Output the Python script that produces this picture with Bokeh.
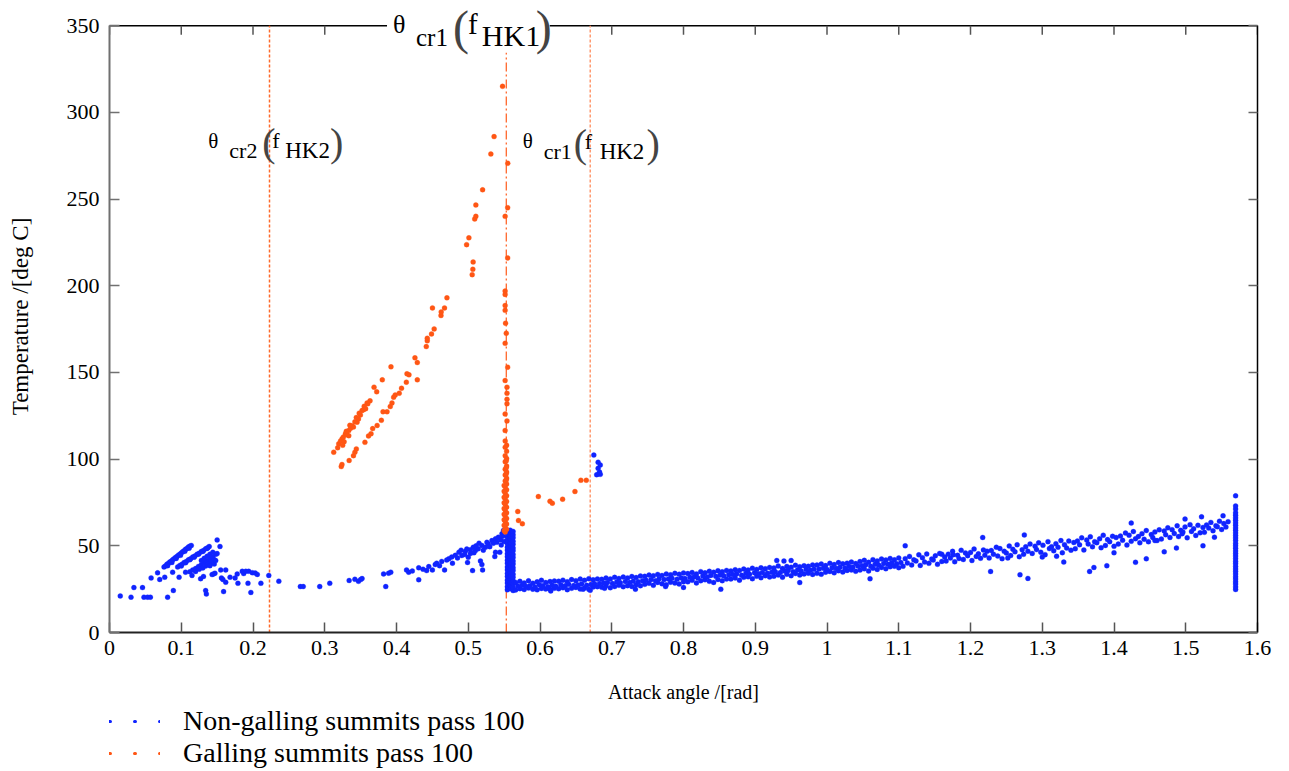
import numpy as np
from bokeh.plotting import figure
from bokeh.layouts import column
from bokeh.models import (ColumnDataSource, LinearAxis, Range1d, FixedTicker, Label,
                          Legend, LegendItem)
from bokeh.embed import file_html
from bokeh.resources import INLINE

FONT = "Liberation Serif"
BLUE = "#1024ff"
ORANGE = "#ff5614"

x_ticks = [0, 0.1, 0.2, 0.3, 0.4, 0.5, 0.6, 0.7, 0.8, 0.9, 1, 1.1, 1.2, 1.3, 1.4, 1.5, 1.6]
y_ticks = [0, 50, 100, 150, 200, 250, 300, 350]
y_max = 350
crit_angles = [0.223, 0.553, 0.670]   # theta_cr2(fHK2), theta_cr1(fHK1), theta_cr1(fHK2)

# ---------------- Non-galling summits (blue) ----------------
blue_streak_x = [0.076,0.078,0.080,0.082,0.084,0.086,0.088,0.090,0.092,0.094,0.096,0.098,0.100,0.102,0.104,0.106,0.108,0.110,0.112,0.114,
                 0.081,0.087,0.093,0.099,0.105,0.111,
                 0.095,0.098,0.101,0.104,0.107,0.110,0.113,0.116,0.119,0.122,0.125,0.128,0.131,0.134,0.137,0.139,
                 0.100,0.106,0.112,0.118,0.124,0.130,0.136,
                 0.112,0.116,0.120,0.124,0.128,0.132,0.136,0.140,0.144,0.148,0.150,
                 0.128,0.132,0.136,0.140,0.144,0.146,0.142,0.138,0.134,0.130,0.140,0.146,0.148,0.125,0.120]
blue_streak_y = [37.8,38.4,39.3,39.8,40.6,41.1,41.9,42.5,43.3,43.8,44.6,45.1,45.9,46.6,47.1,48.0,48.5,49.3,49.8,50.2,
                 38.5,40.4,42.7,44.5,46.8,48.6,
                 37.8,38.7,39.3,40.3,40.9,41.9,42.5,43.5,44.1,45.1,45.7,46.7,47.3,48.3,48.9,49.6,
                 38.4,40.2,42.0,43.4,45.2,46.7,48.5,
                 35.0,36.1,36.9,38.1,39.1,40.4,41.4,42.7,43.7,45.1,45.5,
                 41.5,42.8,44.0,45.2,46.3,42.0,40.5,39.5,38.3,37.2,38.5,39.5,41.5,36.5,35.2]

blue_low_x = [0.015,0.030,0.034,0.046,0.048,0.053,0.057,0.058,0.067,0.070,0.077,0.081,0.089,0.088,0.097,0.150,0.154,0.145,0.147,0.143,
              0.155,0.162,0.156,0.158,0.162,0.159,0.134,0.135,0.127,0.131,0.115,0.106,0.168,0.175,0.178,0.179,0.185,0.187,0.190,0.193,
              0.197,0.194,0.199,0.203,0.206,0.211,0.222]
blue_low_y = [21.1,20.4,25.9,25.9,20.4,20.4,20.4,31.5,34.4,30.6,31.9,20.4,24.2,34.8,31.9,53.4,49.6,33.8,34.2,33.4,
              36.1,36.1,31.5,30.6,29.0,23.6,24.2,22.2,31.0,32.3,32.9,34.8,31.9,31.5,33.8,28.4,35.3,34.0,35.3,28.4,
              23.1,35.3,34.5,34.3,33.5,28.4,32.9]

blue_mid_x = [0.236,0.266,0.270,0.293,0.307,0.334,0.342,0.347,0.350,0.352,0.382,0.385,0.389,0.392,0.414,0.417,0.431,0.431,0.442,0.450,
              0.454,0.456,0.463,0.467,0.473,0.477,0.482,0.487,0.491,0.496,0.500,0.503,0.507,0.510,0.514,0.519,0.524,0.528,0.533,0.538,
              0.542,0.547,0.549,0.506,0.519,0.520,0.499,0.517,0.537,0.544,
              0.485,0.490,0.495,0.498,0.503,0.508,0.511,0.515,0.521,0.526,0.530,0.535,0.538,0.540,0.545,0.548,0.550,0.546,0.478,0.470,
              0.460,0.445,0.437,0.422]
blue_mid_y = [29.6,26.5,26.5,26.5,28.4,30.0,30.7,29.5,30.5,31.1,33.8,26.5,34.2,34.8,36.1,34.8,37.3,30.4,35.7,36.1,
              39.2,40.0,41.0,36.1,42.5,43.5,44.5,46.3,44.4,46.9,43.4,47.7,49.2,47.3,48.3,50.2,49.2,51.1,53.0,46.3,
              55.0,56.9,58.8,35.7,39.2,36.1,40.4,41.3,43.8,46.3,
              43.0,47.5,45.0,48.2,45.5,46.0,50.0,51.5,47.5,52.0,49.5,51.5,54.0,52.0,53.5,55.5,52.5,50.5,40.0,41.8,
              38.5,38.0,36.5,35.5]

blue_wall_cols = [0.5545, 0.5585, 0.5625]
blue_wall_y_a = [24.6,26.4,28.5,30.2,32.3,34.0,36.1,37.8,39.9,41.6,43.7,45.4,47.5,49.2,51.3,53.0,55.1,56.8,58.6]
blue_wall_y_b = [25.3,27.3,29.0,31.1,32.8,34.9,36.6,38.7,40.4,42.5,44.2,46.3,48.0,50.1,51.8,53.9,55.6,57.7,59.0]
blue_wall_y_c = [24.2,26.0,28.1,29.8,31.9,33.6,35.7,37.4,39.5,41.2,43.3,45.0,47.1,48.8,50.9,52.6,54.7,56.4,58.3]

band_a_x = [0.566,0.572,0.578,0.584,0.590,0.596,0.602,0.608,0.614,0.620,
            0.626,0.632,0.638,0.644,0.650,0.656,0.662,0.668,0.674,0.680,
            0.686,0.692,0.698,0.704,0.710,0.716,0.722,0.728,0.734,0.740,
            0.746,0.752,0.758,0.764,0.770,0.776,0.782,0.788,0.794,0.800,
            0.806,0.812,0.818,0.824,0.830,0.836,0.842,0.848,0.854,0.860,
            0.866,0.872,0.878,0.884,0.890,0.896,0.902,0.908,0.914,0.920,
            0.926,0.932,0.938,0.944,0.950,0.956,0.962,0.968,0.974,0.980,
            0.986,0.992,0.998,1.004,1.010,1.016,1.022,1.028,1.034,1.040,
            1.046,1.052,1.058,1.064,1.070,1.076,1.082,1.088,1.094,1.100]
band_a_x_mid = [0.569,0.575,0.581,0.586,0.593,0.599,0.604,0.611,0.617,0.622,
                0.629,0.635,0.640,0.647,0.653,0.658,0.665,0.671,0.676,0.683,
                0.689,0.694,0.701,0.707,0.712,0.719,0.725,0.730,0.737,0.743,
                0.748,0.755,0.761,0.766,0.773,0.779,0.784,0.791,0.797,0.802,
                0.809,0.815,0.820,0.827,0.833,0.838,0.845,0.851,0.856,0.863,
                0.869,0.874,0.881,0.887,0.892,0.899,0.905,0.910,0.917,0.923,
                0.928,0.935,0.941,0.946,0.953,0.959,0.964,0.971,0.977,0.982,
                0.989,0.995,1.000,1.007,1.013,1.018,1.025,1.031,1.036,1.043,
                1.049,1.054,1.061,1.067,1.072,1.079,1.085,1.090,1.097,1.103]
band_a_y_low = [24.5,25.3,24.8,25.6,25.0,24.6,25.4,25.1,24.9,25.5,
                25.2,25.8,24.7,25.5,26.0,25.1,25.6,24.9,26.2,26.4,
                26.1,26.9,25.8,26.5,27.2,26.4,27.0,26.6,27.5,26.9,
                27.8,28.4,27.2,28.9,28.1,27.6,29.0,28.5,27.9,29.3,
                29.2,30.1,28.6,29.8,30.4,29.5,28.9,30.6,29.9,30.8,
                30.9,31.5,30.2,31.8,32.1,31.0,32.4,31.6,32.7,32.0,
                32.5,33.2,31.9,33.6,32.8,34.0,33.1,33.8,34.2,33.5,
                34.1,33.6,34.8,35.2,34.4,35.6,34.9,35.8,36.1,35.3,
                36.0,36.7,35.5,37.1,36.4,37.5,36.8,37.9,38.2,37.4]
band_a_y_mid = [26.8,27.3,26.5,27.0,26.2,27.6,26.9,26.4,27.2,26.7,
                27.5,26.9,27.8,27.1,27.4,28.0,27.2,27.7,28.1,28.3,
                28.5,28.9,28.2,29.1,28.7,29.4,28.8,29.6,29.2,29.9,
                30.2,30.6,29.8,31.0,30.5,30.9,31.3,30.7,31.5,31.1,
                31.8,32.2,31.5,32.6,32.0,32.9,32.4,33.1,32.7,33.3,
                33.4,33.8,33.0,34.1,33.6,34.4,33.9,34.6,34.2,34.8,
                35.0,34.6,35.4,35.8,35.1,36.0,35.5,36.3,35.9,36.5,
                36.6,37.0,36.3,37.4,36.9,37.7,37.2,38.0,37.6,38.3,
                38.5,39.1,38.2,39.4,38.9,39.8,39.3,40.1,39.6,40.3]
band_a_y_high = [28.9,29.5,28.6,29.8,28.4,29.2,30.1,28.8,29.4,29.7,
                 29.6,30.2,29.3,30.5,29.9,30.8,30.1,31.0,30.4,30.9,
                 30.7,31.4,30.9,31.8,31.2,32.0,31.5,32.3,31.7,32.6,
                 32.4,33.1,32.7,33.5,32.9,33.8,33.3,34.1,33.6,34.3,
                 34.0,34.6,33.8,35.1,34.4,35.3,34.8,35.6,35.0,35.8,
                 35.5,36.2,35.8,36.6,36.0,37.1,36.4,37.3,36.8,37.5,
                 37.2,38.4,36.9,38.1,37.6,38.8,37.9,38.5,38.2,39.0,
                 38.9,39.5,38.6,39.9,39.2,40.3,39.6,40.0,40.6,39.8,
                 40.9,41.6,40.5,42.0,41.3,42.4,41.8,42.7,41.9,43.0]

band_b_x = [1.106,1.112,1.118,1.124,1.130,1.136,1.142,1.148,1.154,1.160,
            1.166,1.172,1.178,1.184,1.190,1.196,1.202,1.208,1.214,1.220,
            1.226,1.232,1.238,1.244,1.250,1.256,1.262,1.268,1.274,1.280,
            1.286,1.292,1.298,1.304,1.310,1.316,1.322,1.328,1.334,1.340,
            1.346,1.352,1.358,1.364,1.370,1.376,1.382,1.388,1.394,1.400,
            1.406,1.412,1.418,1.424,1.430,1.436,1.442,1.448,1.454,1.460,
            1.466,1.472,1.478,1.484,1.490,1.496,1.502,1.508,1.514,1.520,
            1.526,1.532,1.538,1.544,1.550,1.556]
band_b_x_high = [1.109,1.115,1.121,1.128,1.133,1.139,1.146,1.151,1.157,1.164,
                 1.169,1.175,1.182,1.187,1.193,1.200,1.205,1.211,1.218,1.223,
                 1.229,1.236,1.241,1.247,1.254,1.259,1.265,1.272,1.277,1.283,
                 1.290,1.295,1.301,1.308,1.313,1.319,1.326,1.331,1.337,1.344,
                 1.349,1.355,1.362,1.367,1.373,1.380,1.385,1.391,1.398,1.403,
                 1.409,1.416,1.421,1.427,1.434,1.439,1.445,1.452,1.457,1.463,
                 1.470,1.475,1.481,1.488,1.493,1.499,1.506,1.511,1.517,1.524,
                 1.529,1.535,1.542,1.547,1.553,1.559]
band_b_y_low = [38.2,40.1,39.0,41.3,38.7,40.6,39.9,41.8,39.3,41.0,
                41.2,43.0,40.8,42.7,42.1,44.3,41.5,43.9,42.8,44.6,
                43.0,45.2,44.1,42.6,45.8,44.4,46.5,43.7,45.1,46.9,
                45.6,47.8,46.3,44.9,48.4,47.1,49.2,46.0,48.7,47.5,
                48.3,50.6,47.6,51.1,49.4,51.8,48.9,50.2,52.4,49.7,
                51.0,53.2,50.4,52.6,54.1,51.7,53.8,52.3,54.8,53.0,
                53.9,56.4,54.8,57.1,55.3,57.9,54.6,58.3,56.0,57.5,
                57.8,60.2,58.7,61.0,59.4,60.8]
band_b_y_high = [42.6,43.9,41.9,44.8,43.1,45.3,42.4,44.2,45.6,43.5,
                 45.2,46.8,44.5,47.4,45.9,46.2,48.1,45.4,47.6,46.9,
                 47.3,49.2,48.4,46.8,49.9,48.0,50.6,47.7,49.4,51.0,
                 49.8,51.7,50.3,52.4,49.5,51.2,53.0,50.6,52.7,51.9,
                 52.7,54.6,53.3,55.2,52.4,54.0,56.1,53.6,55.5,54.8,
                 55.6,57.4,56.1,58.2,55.3,57.0,58.8,56.5,58.0,59.2,
                 58.6,60.4,59.3,61.5,58.9,60.9,62.2,59.8,61.8,60.6,
                 62.0,63.5,61.6,64.2,62.8,63.9]

band_out_x = [1.109,1.424,1.217,1.275,1.269,1.280,1.228,1.366,1.524,1.487,1.499,1.522,1.552,0.852,0.733,0.962,0.930,0.940,0.950,1.160,
              1.176,1.372,1.390,1.430,1.445,1.330,1.060,0.800,0.775,0.660,0.670,0.690,0.615,1.320,1.400,1.252,1.300,1.457,1.540,1.495,1.470]
band_out_y = [50.0,63.1,54.8,56.3,33.3,31.2,35.2,35.2,50.0,48.7,65.4,66.7,67.3,25.0,25.0,28.8,41.5,41.2,41.5,45.2,
              44.8,37.5,38.5,40.5,42.5,40.6,31.0,26.0,26.5,25.0,24.3,25.5,24.0,44.0,46.0,43.0,43.5,53.0,55.0,57.0,46.5]

blue_edge_x = 1.5695
blue_edge_y = [24.8,26.3,27.9,29.2,30.8,32.1,33.7,35.2,36.6,38.1,39.7,41.0,42.6,44.1,45.5,47.0,48.6,50.0,51.4,53.0,
               54.5,55.9,57.4,58.9,60.3,61.8,63.2,64.7,66.1,67.6,69.0,71.2,73.0,78.8]

blue_bump_x = [0.675,0.681,0.684,0.681,0.682,0.684,0.679,0.683]
blue_bump_y = [102.3,98.2,96.6,94.7,91.5,91.2,91.0,92.5]

# ---------------- Galling summits (orange) ----------------
orange_streak_x = [0.3125,0.3195,0.3242,0.3288,0.3335,0.3381,0.345,0.3497,0.352,0.359,0.3631,0.360,0.3687,0.3724,0.3802,0.3923,
                   0.322,0.326,0.327,0.331,0.3335,0.336,0.340,0.342,0.347,0.348,0.354,0.355,0.357,0.330,0.325,0.318,0.335,0.344,
                   0.323,0.324,0.334,0.340,0.342,0.344,0.356,0.361,0.3645,0.3668,0.373,0.3789,0.3812,0.3868,0.3913,0.3937,0.3960,0.3982,
                   0.4038,0.4070,0.4137,0.4146,0.4174,0.4290,0.4257,0.4415,0.4429,0.4429,0.4488,0.4525,0.4501,0.4620,0.4623,0.4669,0.4703,0.4290]
orange_streak_y = [104.0,108.8,111.7,114.6,116.5,119.3,121.3,125.5,128.0,132.4,133.6,131.9,141.5,138.8,145.7,153.2,
                   110.5,112.8,110.0,114.0,113.5,117.8,118.5,121.5,123.2,126.5,128.5,130.5,129.0,116.0,108.0,106.5,119.5,124.0,
                   95.7,96.9,99.2,102.0,104.0,105.9,109.7,113.4,114.6,117.6,119.4,122.4,127.3,127.3,130.3,132.4,135.7,137.0,
                   138.0,140.9,144.4,149.2,148.6,145.7,158.4,164.9,168.2,169.7,172.2,175.1,187.2,182.8,184.9,187.2,193.0,155.7]

orange_top_x = [0.4977,0.5009,0.5055,0.5064,0.5068,0.5090,0.5106,0.5106,0.5200,0.5315,0.5360,0.5478]
orange_top_y = [223.7,227.6,206.4,209.5,213.7,238.5,240.0,246.6,255.3,276.0,286.0,315.0]

orange_wall_x = [0.5551,0.5550,0.5514,0.5550,0.5514,0.5514,0.5514,0.5514,0.5520,0.5530,0.5514,0.5550,0.5514,0.5540,0.5540,0.5540,0.5540,0.5514,0.5540,0.5514,
                 0.5515,0.5535,0.5515,0.5535,0.5515,0.5535,0.5515,0.5535,0.5515,0.5535,0.5515,0.5535,0.5515,0.5535,0.5515,0.5535,
                 0.5515,0.5535,0.5515,0.5535,0.5515,0.5535,0.5515,0.5535,0.5515,0.5535,0.5515,0.5535,0.5515,0.5535,0.5515,
                 0.5500,0.5500,0.5500,0.5500,0.5500,0.5500,0.5500,0.5500,0.5500,0.5530,0.5530,0.5530,0.5530]
orange_wall_y = [270.6,245.0,240.0,216.0,196.9,195.0,188.6,185.8,178.4,172.6,166.8,153.0,145.3,141.5,138.0,134.5,131.9,126.0,122.0,116.5,
                 110.5,108.0,106.9,104.5,102.0,100.3,98.5,96.0,94.2,92.5,90.8,89.0,87.4,85.6,84.0,82.3,
                 80.5,78.9,77.2,75.6,74.0,72.3,70.7,69.0,67.4,65.8,64.2,62.6,61.0,59.5,58.0,
                 84.8,81.5,78.0,74.8,71.5,68.2,65.0,61.8,58.8,99.0,95.0,91.5,88.0]

orange_right_x = [0.569,0.570,0.5754,0.5977,0.6139,0.6172,0.6315,0.6487,0.657,0.6645]
orange_right_y = [69.8,64.6,62.7,78.4,75.7,74.6,76.9,81.3,87.8,87.8]

# ---------------- assemble ----------------
wall_x = ([blue_wall_cols[0]] * len(blue_wall_y_a) + [blue_wall_cols[1]] * len(blue_wall_y_b)
          + [blue_wall_cols[2]] * len(blue_wall_y_c))
wall_y = blue_wall_y_a + blue_wall_y_b + blue_wall_y_c

bx = np.concatenate([blue_low_x, blue_streak_x, blue_mid_x, wall_x,
                     band_a_x, band_a_x_mid, band_a_x, band_b_x, band_b_x_high, band_out_x,
                     [blue_edge_x] * len(blue_edge_y), blue_bump_x])
by = np.concatenate([blue_low_y, blue_streak_y, blue_mid_y, wall_y,
                     band_a_y_low, band_a_y_mid, band_a_y_high, band_b_y_low, band_b_y_high, band_out_y,
                     blue_edge_y, blue_bump_y])
ox = np.concatenate([orange_streak_x, orange_top_x, orange_wall_x, orange_right_x])
oy = np.concatenate([orange_streak_y, orange_top_y, orange_wall_y, orange_right_y])

blue_src = ColumnDataSource(dict(x=bx, y=by))
orange_src = ColumnDataSource(dict(x=ox, y=oy))

# frame reaches the top of the page so the label above the 350 line can be drawn;
# axes are bounded to 0..350
p = figure(width=1280, height=705, x_range=Range1d(0, 1.6), y_range=Range1d(0, 364.5),
           output_backend="svg", toolbar_location=None,
           min_border_left=107, min_border_right=23, min_border_top=0, min_border_bottom=73)
p.outline_line_color = None
p.grid.visible = False
p.background_fill_color = "white"
p.border_fill_color = "white"

# bottom axis
xa = p.xaxis[0]
xa.ticker = FixedTicker(ticks=x_ticks)
xa.major_label_overrides = {0: "0", 1: "1"}
xa.axis_line_color = "#222222"
xa.axis_line_width = 2
xa.major_tick_in = 10
xa.major_tick_out = 0
xa.major_tick_line_color = "#555555"
xa.major_tick_line_width = 1.5
xa.minor_tick_line_color = None
xa.major_label_text_font = FONT
xa.major_label_text_font_size = "22px"
xa.major_label_text_color = "black"
xa.major_label_standoff = 8
xa.axis_label = "Attack angle /[rad]"
xa.axis_label_text_font = FONT
xa.axis_label_text_font_size = "20px"
xa.axis_label_text_font_style = "normal"
xa.axis_label_text_color = "black"
xa.axis_label_standoff = 23

# left axis
ya = p.yaxis[0]
ya.ticker = FixedTicker(ticks=y_ticks)
ya.bounds = (0, y_max)
ya.axis_line_color = "#707070"
ya.axis_line_width = 2
ya.major_tick_in = 10
ya.major_tick_out = 0
ya.major_tick_line_color = "#707070"
ya.major_tick_line_width = 1.5
ya.minor_tick_line_color = None
ya.major_label_text_font = FONT
ya.major_label_text_font_size = "22px"
ya.major_label_text_color = "black"
ya.major_label_standoff = 10
ya.axis_label = "Temperature /[deg C]"
ya.axis_label_text_font = FONT
ya.axis_label_text_font_size = "23px"
ya.axis_label_text_font_style = "normal"
ya.axis_label_text_color = "black"
ya.axis_label_standoff = 31

# right tick axis (inward ticks, no labels)
right_axis = LinearAxis(ticker=FixedTicker(ticks=y_ticks), bounds=(0, y_max),
                        axis_line_color="black", axis_line_width=1.5,
                        major_tick_in=9, major_tick_out=0, major_tick_line_color="#666666",
                        major_tick_line_width=1.5, minor_tick_line_color=None,
                        major_label_overrides={t: "" for t in y_ticks},
                        major_label_text_font_size="1px", major_label_standoff=0)
p.add_layout(right_axis, "right")

def px2x(px):
    return (px - 107) / 718.75

def px2y(py):
    return (632 - py) / 1.7343

# top frame line at 350 (interrupted by the label) and its inward ticks outside the gap
gap_lo, gap_hi = px2x(385), px2x(548)
p.segment(x0=[0, gap_hi], y0=[y_max, y_max], x1=[gap_lo, 1.6], y1=[y_max, y_max],
          line_color="black", line_width=1.5)
top_ticks = [t for t in x_ticks if not (gap_lo < t < gap_hi)]
tick_len = 9 / 1.7343
p.segment(x0=top_ticks, y0=[y_max] * len(top_ticks), x1=top_ticks,
          y1=[y_max - tick_len] * len(top_ticks), line_color="#555555", line_width=1.5)

# critical angle lines
p.segment(x0=[crit_angles[0]], y0=[0], x1=[crit_angles[0]], y1=[y_max],
          line_color="#ff6a2a", line_dash="3 2", line_width=1.5)
p.segment(x0=[crit_angles[2]], y0=[0], x1=[crit_angles[2]], y1=[y_max],
          line_color="#ff9a70", line_dash="3 2", line_width=1.5)
p.segment(x0=[crit_angles[1]], y0=[0], x1=[crit_angles[1]], y1=[px2y(52)],
          line_color="#ff5a1a", line_dash="9 3 2 3", line_width=1.2)

blue_r = p.scatter("x", "y", source=blue_src, size=5, fill_color=BLUE, line_color=BLUE, line_width=0.3)
orange_r = p.scatter("x", "y", source=orange_src, size=5, fill_color=ORANGE, line_color=ORANGE, line_width=0.3)

def lab(px, pyc, text, size, color="black"):
    # px: left edge, pyc: vertical centre (page pixels of the reference layout)
    p.add_layout(Label(x=px2x(px), y=px2y(pyc), text=text, text_font=FONT,
                       text_font_size=f"{size}px", text_baseline="middle",
                       text_align="left", text_color=color))

PAREN = "#444444"
# theta_cr1(f_HK1) on the top frame line
lab(391, 24, "θ", 26)
lab(414, 36.5, "cr1", 25)
lab(451, 27, "(", 48, PAREN)
lab(466, 23, "f", 29)
lab(480, 35, "HK1", 30)
lab(534, 27, ")", 48, PAREN)
# theta_cr2(f_HK2)
lab(206, 140, "θ", 21)
lab(227, 150, "cr2", 22)
lab(260, 142, "(", 40, PAREN)
lab(270, 139.5, "f", 22)
lab(283, 149.5, "HK2", 23)
lab(328, 142, ")", 40, PAREN)
# theta_cr1(f_HK2)
lab(521, 140.5, "θ", 21)
lab(542, 150.5, "cr1", 22)
lab(572, 143, "(", 40, PAREN)
lab(583, 140.5, "f", 22)
lab(598, 150.5, "HK2", 23)
lab(645, 143, ")", 40, PAREN)

# ---------------- legend strip below the chart ----------------
leg = figure(width=1280, height=66, x_range=Range1d(0, 1), y_range=Range1d(0, 1),
             x_axis_type=None, y_axis_type=None, output_backend="svg", toolbar_location=None,
             min_border_left=109, min_border_right=0, min_border_top=0, min_border_bottom=0)
leg.outline_line_color = None
leg.grid.visible = False
leg.border_fill_color = "white"
# legend-key renderers (their points lie outside the strip's view; only the key glyph is seen)
dummy_b = leg.line(x=[5, 6], y=[5, 6], line_color=BLUE, line_width=3, line_dash="1 24", line_cap="round")
dummy_o = leg.line(x=[5, 6], y=[5, 6], line_color=ORANGE, line_width=3, line_dash="1 24", line_cap="round")
legend = Legend(items=[LegendItem(label="Non-galling summits pass 100", renderers=[dummy_b]),
                       LegendItem(label="Galling summits pass 100", renderers=[dummy_o])],
                location="top_left", orientation="vertical")
legend.margin = 0
legend.padding = 0
legend.spacing = 0
legend.border_line_color = None
legend.background_fill_alpha = 0
legend.glyph_width = 51
legend.glyph_height = 20
legend.label_standoff = 23
legend.label_text_font = FONT
legend.label_text_font_size = "28px"
legend.label_text_color = "black"
legend.label_text_line_height = 0.95
legend.label_height = 26
leg.add_layout(legend)

open("out.html", "w").write(file_html(column(p, leg), INLINE))
